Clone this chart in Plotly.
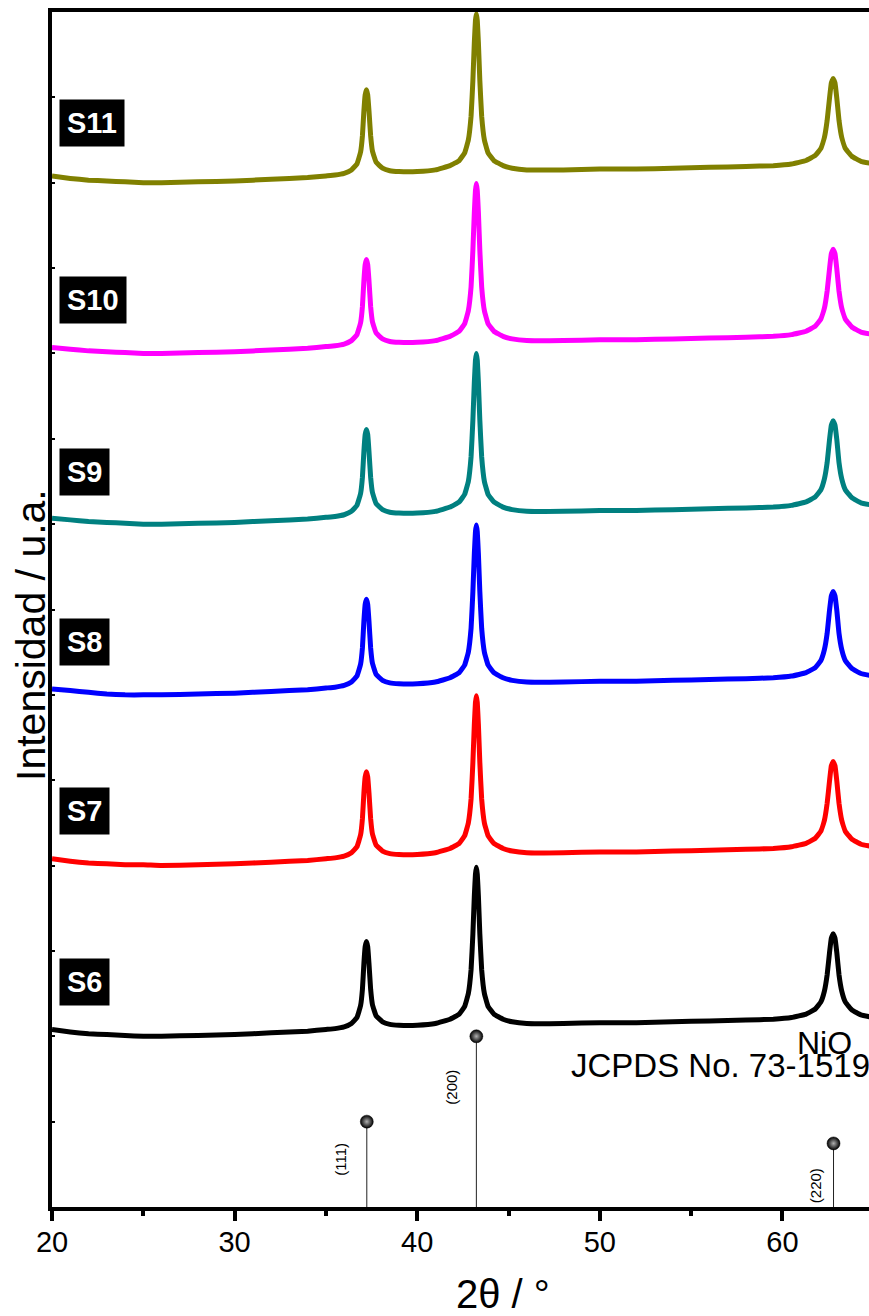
import plotly.graph_objects as go

# ---------------- data ----------------
two_theta = [20, 21, 22, 23, 24, 25, 26, 28, 30, 32, 34,
             35, 35.5, 36, 36.4, 36.7, 36.9, 37.0, 37.08, 37.15, 37.22, 37.29, 37.36, 37.45, 37.55, 37.75, 38.1, 38.5, 39,
             40, 41, 41.8, 42.3, 42.6, 42.8, 42.95, 43.05, 43.13, 43.19, 43.24, 43.29, 43.35, 43.43, 43.53, 43.68, 43.88, 44.2, 44.7, 45.2,
             46, 48, 50, 52, 54, 56, 58, 59.5, 60.5,
             61.3, 61.8, 62.1, 62.3, 62.45, 62.58, 62.68, 62.78, 62.88, 62.98, 63.1, 63.25, 63.45, 63.8, 64.3, 65]

intensity_S6 = [2.08, 2.05, 2.03, 2.02, 2.01, 2.00, 2.00, 2.01, 2.02, 2.04, 2.06,
                2.08, 2.09, 2.11, 2.15, 2.22, 2.36, 2.55, 2.85, 3.05, 3.11, 3.05, 2.85, 2.55, 2.37, 2.24, 2.17, 2.14, 2.13,
                2.13, 2.15, 2.20, 2.26, 2.35, 2.50, 2.78, 3.20, 3.65, 3.90, 3.98, 3.90, 3.65, 3.20, 2.78, 2.50, 2.35, 2.26, 2.20, 2.17,
                2.15, 2.15, 2.16, 2.16, 2.17, 2.18, 2.19, 2.20, 2.22,
                2.26, 2.32, 2.40, 2.53, 2.72, 2.98, 3.15, 3.20, 3.15, 2.98, 2.72, 2.53, 2.40, 2.31, 2.25, 2.22]
intensity_S7 = [2.08, 2.05, 2.03, 2.02, 2.01, 2.01, 2.00, 2.01, 2.02, 2.04, 2.06,
                2.08, 2.09, 2.11, 2.15, 2.22, 2.36, 2.55, 2.85, 3.04, 3.10, 3.04, 2.85, 2.55, 2.37, 2.24, 2.17, 2.14, 2.13,
                2.13, 2.15, 2.20, 2.26, 2.35, 2.50, 2.78, 3.21, 3.66, 3.91, 3.99, 3.91, 3.66, 3.21, 2.78, 2.50, 2.35, 2.26, 2.20, 2.17,
                2.15, 2.15, 2.16, 2.16, 2.17, 2.18, 2.19, 2.20, 2.22,
                2.26, 2.32, 2.40, 2.53, 2.73, 2.99, 3.17, 3.22, 3.17, 2.99, 2.73, 2.53, 2.40, 2.31, 2.25, 2.22]
intensity_S8 = [2.07, 2.05, 2.03, 2.01, 2.00, 2.00, 2.00, 2.01, 2.02, 2.04, 2.06,
                2.08, 2.09, 2.11, 2.15, 2.22, 2.36, 2.55, 2.86, 3.06, 3.12, 3.06, 2.86, 2.55, 2.37, 2.24, 2.17, 2.14, 2.13,
                2.13, 2.15, 2.20, 2.26, 2.35, 2.50, 2.78, 3.21, 3.66, 3.91, 3.99, 3.91, 3.66, 3.21, 2.78, 2.50, 2.35, 2.26, 2.20, 2.17,
                2.15, 2.15, 2.16, 2.16, 2.17, 2.18, 2.19, 2.20, 2.22,
                2.26, 2.32, 2.40, 2.53, 2.72, 2.99, 3.16, 3.21, 3.16, 2.99, 2.72, 2.53, 2.40, 2.31, 2.25, 2.22]
intensity_S9 = [2.07, 2.05, 2.03, 2.02, 2.01, 2.00, 2.00, 2.01, 2.02, 2.04, 2.06,
                2.08, 2.09, 2.11, 2.15, 2.22, 2.36, 2.55, 2.85, 3.05, 3.11, 3.05, 2.85, 2.55, 2.37, 2.24, 2.17, 2.14, 2.13,
                2.13, 2.15, 2.20, 2.26, 2.35, 2.50, 2.79, 3.22, 3.67, 3.92, 4.00, 3.92, 3.67, 3.22, 2.79, 2.50, 2.35, 2.26, 2.20, 2.17,
                2.15, 2.15, 2.16, 2.16, 2.17, 2.18, 2.19, 2.20, 2.22,
                2.26, 2.32, 2.40, 2.53, 2.72, 2.99, 3.16, 3.21, 3.16, 2.99, 2.72, 2.53, 2.40, 2.31, 2.25, 2.22]
intensity_S10 = [2.07, 2.05, 2.03, 2.02, 2.01, 2.00, 2.00, 2.01, 2.02, 2.04, 2.06,
                 2.08, 2.09, 2.11, 2.15, 2.22, 2.36, 2.55, 2.85, 3.04, 3.10, 3.04, 2.85, 2.55, 2.37, 2.24, 2.17, 2.14, 2.13,
                 2.13, 2.15, 2.20, 2.26, 2.35, 2.50, 2.78, 3.21, 3.66, 3.91, 3.99, 3.91, 3.66, 3.21, 2.78, 2.50, 2.35, 2.26, 2.20, 2.17,
                 2.15, 2.15, 2.16, 2.16, 2.17, 2.18, 2.19, 2.20, 2.22,
                 2.26, 2.32, 2.40, 2.53, 2.73, 2.99, 3.17, 3.22, 3.17, 2.99, 2.73, 2.53, 2.40, 2.31, 2.25, 2.22]
intensity_S11 = [2.08, 2.05, 2.03, 2.02, 2.01, 2.00, 2.00, 2.01, 2.02, 2.04, 2.06,
                 2.08, 2.09, 2.11, 2.15, 2.22, 2.36, 2.55, 2.84, 3.03, 3.09, 3.03, 2.84, 2.55, 2.37, 2.24, 2.17, 2.14, 2.13,
                 2.13, 2.15, 2.20, 2.26, 2.35, 2.50, 2.78, 3.20, 3.65, 3.90, 3.98, 3.90, 3.65, 3.20, 2.78, 2.50, 2.35, 2.26, 2.20, 2.17,
                 2.15, 2.15, 2.16, 2.16, 2.17, 2.18, 2.19, 2.20, 2.22,
                 2.26, 2.32, 2.40, 2.53, 2.73, 2.99, 3.17, 3.22, 3.17, 2.99, 2.73, 2.53, 2.40, 2.31, 2.25, 2.22]

samples = ["S6", "S7", "S8", "S9", "S10", "S11"]
sample_intensities = [intensity_S6, intensity_S7, intensity_S8, intensity_S9, intensity_S10, intensity_S11]
stack_offsets = [0, 2, 4, 6, 8, 10]
label_y = [2.64, 4.64, 6.62, 8.61, 10.63, 12.70]
colors = ["#000000", "#FF0000", "#0000FF", "#008080", "#FF00FF", "#808000"]

# NiO reference pattern (JCPDS No. 73-1519)
ref_two_theta = [37.24, 43.24, 62.80]
ref_intensity = [1.0, 2.0, 0.745]
ref_hkl = ["(111)", "(200)", "(220)"]
ref_label_x = [35.80, 41.86, 61.79]
ref_label_y = [0.56, 1.40, 0.245]

x_ticks = [20, 30, 40, 50, 60]

FONT = "Liberation Sans, Arial, sans-serif"

fig = go.Figure()

for name, yy, off, col in zip(samples, sample_intensities, stack_offsets, colors):
    fig.add_trace(go.Scatter(
        x=two_theta, y=[v + off for v in yy], mode="lines", name=name,
        line=dict(color=col, width=5, shape="spline", smoothing=0.3),
        showlegend=False, hoverinfo="skip"))

# reference sticks
sx, sy = [], []
for p, h in zip(ref_two_theta, ref_intensity):
    sx += [p, p, None]
    sy += [0, h, None]
fig.add_trace(go.Scatter(x=sx, y=sy, mode="lines", line=dict(color="#222222", width=1),
                         showlegend=False, hoverinfo="skip"))
fig.add_trace(go.Scatter(x=ref_two_theta, y=ref_intensity, mode="markers",
                         marker=dict(size=13, color="#000000",
                                     gradient=dict(type="radial", color="#b0b0b0"),
                                     line=dict(width=0.5, color="#000000")),
                         showlegend=False, hoverinfo="skip"))

annotations = []
for name, ly in zip(samples, label_y):
    annotations.append(dict(x=20.40, y=ly, xref="x", yref="y", text="<b>%s</b>" % name,
                            showarrow=False, xanchor="left", yanchor="middle",
                            bgcolor="#000000", borderpad=7,
                            font=dict(family=FONT, size=29, color="#FFFFFF")))
for t, lx, ly in zip(ref_hkl, ref_label_x, ref_label_y):
    annotations.append(dict(x=lx, y=ly, xref="x", yref="y", text=t, textangle=-90,
                            showarrow=False, xanchor="center", yanchor="middle",
                            font=dict(family=FONT, size=15, color="#000000")))
annotations.append(dict(x=824, y=1043, xref="x domain", yref="y domain", text="NiO", showarrow=False,
                        font=dict(family=FONT, size=32, color="#000000")))
annotations.append(dict(x=569, y=1065, xref="x domain", yref="y domain", text="JCPDS No. 73-1519",
                        showarrow=False, xanchor="left",
                        font=dict(family=FONT, size=33, color="#000000")))
annotations.append(dict(text="Intensidad / u.a.", textangle=-90, showarrow=False,
                        x=31, y=635, xref="x domain", yref="y domain",
                        font=dict(family=FONT, size=41, color="#000000")))
annotations.append(dict(text="2\u03b8 / \u00b0", showarrow=False,
                        x=503, y=1294, xref="x domain", yref="y domain",
                        font=dict(family=FONT, size=40, color="#000000")))

# convert pixel-located text annotations into domain coordinates
L, T, W, H = 52, 12, 817, 1195
for a in annotations:
    if a.get("xref") == "x domain":
        a["x"] = (a["x"] - L) / W
        a["y"] = 1 - (a["y"] - T) / H
        a["xanchor"] = a.get("xanchor", "center")
        a["yanchor"] = "middle"

fig.update_layout(
    width=869, height=1316,
    margin=dict(l=L, r=869 - L - W, t=T, b=1316 - T - H),
    paper_bgcolor="white", plot_bgcolor="white",
    font=dict(family=FONT, color="#000000"),
    annotations=annotations,
    xaxis=dict(range=[20, 20 + W / 18.26], tickvals=x_ticks, ticktext=[str(v) for v in x_ticks],
               ticks="outside", ticklen=10, tickwidth=4, tickcolor="#000000",
               minor=dict(tickvals=[25, 35, 45, 55, 65], ticks="outside", ticklen=5, tickwidth=4,
                          tickcolor="#000000"),
               showline=True, linewidth=4, linecolor="#000000", mirror=True,
               showgrid=False, zeroline=False, ticklabelstandoff=-4,
               tickfont=dict(family=FONT, size=29, color="#000000")),
    yaxis=dict(range=[0, 14], dtick=1, tick0=0, ticks="inside", ticklen=3, tickwidth=2,
               tickcolor="#000000", showticklabels=False,
               showline=True, linewidth=4, linecolor="#000000", mirror=False,
               showgrid=False, zeroline=False),
)

fig.write_html("out.html", config={"displayModeBar": False},
               post_script="document.body.style.margin='0';document.body.style.overflow='hidden';")
